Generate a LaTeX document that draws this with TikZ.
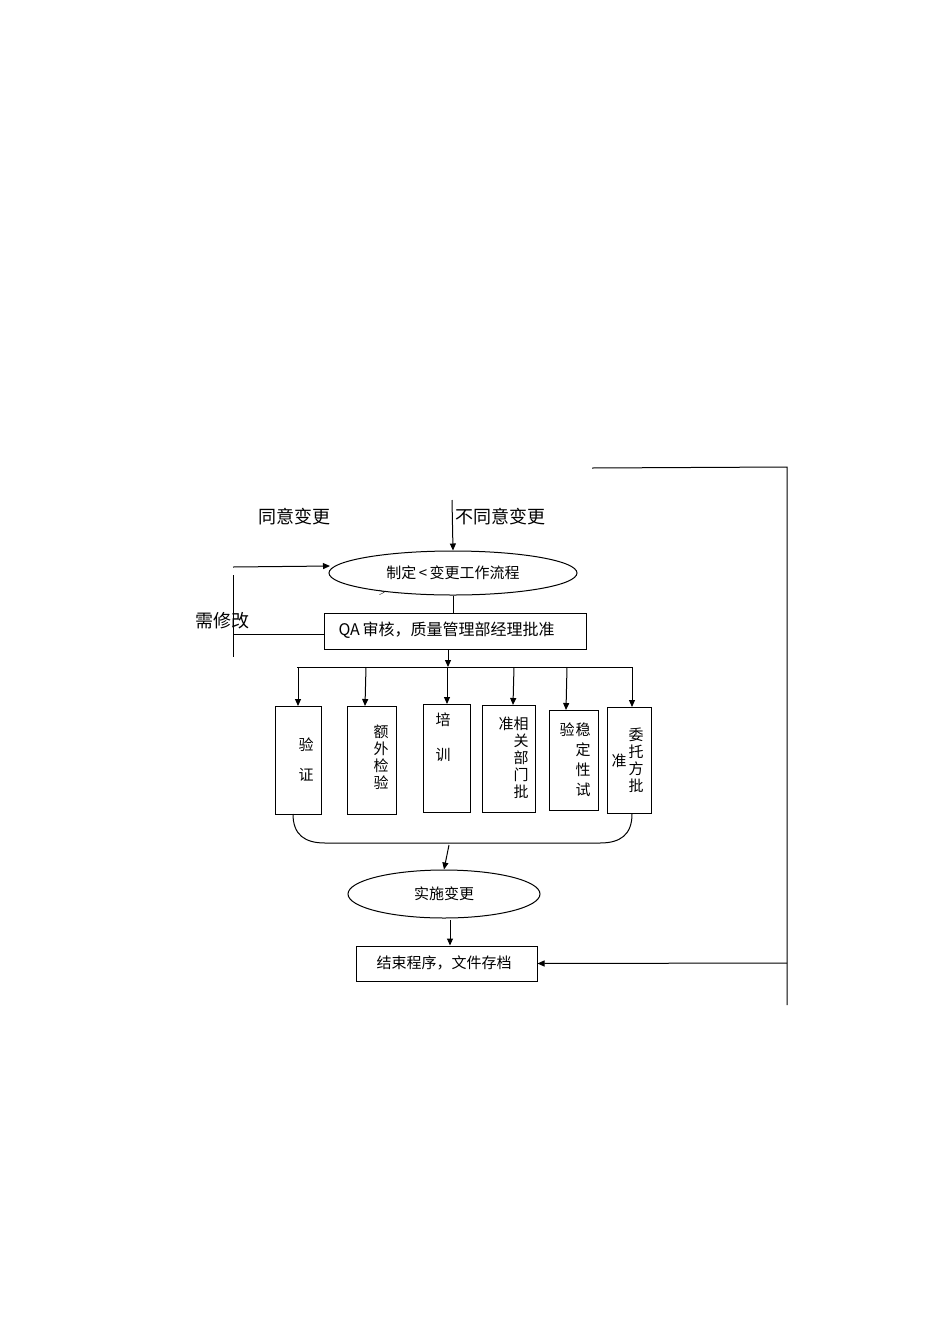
\documentclass[tikz,border=0pt]{standalone}
\usepackage{fontspec}
\setmainfont{Liberation Serif}
\newfontfamily\cjk{Noto Sans CJK SC}
\usetikzlibrary{shapes.geometric,arrows.meta}
\begin{document}
\begin{tikzpicture}[x=1pt,y=-1pt,line width=1pt,>={Triangle[length=7pt,width=6pt]},
 bx/.style={draw,inner sep=0pt},
 t/.style={font=\cjk\fontsize{15}{17}\selectfont,inner sep=0pt},
 big/.style={font=\cjk\fontsize{18}{18}\selectfont,inner sep=0pt}]
\useasboundingbox (0,0) rectangle (950,1344);
% outer right path
\coordinate (r0) at (592,468);
\coordinate (r1) at (787,467);
\coordinate (r2) at (787,1005);
\coordinate (r3) at (787,963);
\draw (r0)--(r1)--(r2);
% labels
\node[big] (ty) at (294,517) {同意变更};
\node[big] (bty) at (500,517) {不同意变更};
\node[big] (xxg) at (222,621) {需修改};
% ellipse
\node[draw,ellipse,minimum width=248pt,minimum height=44pt,inner sep=0pt] (e1) at (453,573) {};
\node[t] (e1t) at (453,573) {制定\,\textless\,变更工作流程};
\node[font=\fontsize{11}{11}\selectfont,inner sep=0pt] (gt) at (382,593) {>};
\coordinate (nd) at (452,500);
\draw[->] (nd)--(e1.north);
\coordinate (la) at (233,567);
\coordinate (lae) at (330,566);
\draw[->] (la)--(lae);
\coordinate (v0) at (233,575);
\coordinate (v1) at (233,657);
\draw (v0)--(v1);
% QA box
\node[bx,minimum width=262pt,minimum height=36pt] (qa) at (455,631) {};
\node[t,anchor=west] (qat) at (338,630) {\fontsize{16}{16}\selectfont QA\,{\cjk 审核，质量管理部经理批准}};
\coordinate (lb) at (233,634);
\draw (lb)--(qa.west|-lb);
\draw (e1.south)--(qa.north-|e1.south);
% bus
\coordinate (b0) at (297,667);
\coordinate (b1) at (632,667);
\draw (b0)--(b1);
\draw[->] (448,649)--(448,667);
% boxes
\node[bx,minimum width=46pt,minimum height=108pt] (k1) at (298,760) {};
\node[bx,minimum width=49pt,minimum height=108pt] (k2) at (371.5,760) {};
\node[bx,minimum width=47pt,minimum height=108pt] (k3) at (446.5,758) {};
\node[bx,minimum width=53pt,minimum height=107pt] (k4) at (508.5,758.5) {};
\node[bx,minimum width=49pt,minimum height=100pt] (k5) at (573.5,760) {};
\node[bx,minimum width=44pt,minimum height=106pt] (k6) at (629,760) {};
\draw[->] (298,667)--(298,706);
\draw[->] (366,667)--(365,706);
\draw[->] (447,667)--(447,704);
\draw[->] (514,667)--(513,705);
\draw[->] (567,667)--(566,710);
\draw[->] (632,667)--(632,707);
% box texts
\node[t] at (306,745) {验};
\node[t] at (306,775) {证};
\node[t,align=center] at (381,757) {额\\外\\检\\验};
\node[t] at (443,720) {培};
\node[t] at (443,755) {训};
\node[t,align=center] at (521,758) {相\\关\\部\\门\\批};
\node[t] at (506,724) {准};
\node[t,align=center,font=\cjk\fontsize{15}{20}\selectfont] at (583,760) {稳\\定\\性\\试};
\node[t] at (567,730) {验};
\node[t,align=center] at (636,760) {委\\托\\方\\批};
\node[t] at (619,761) {准};
% bracket
\coordinate (c0) at (293,814);
\coordinate (c1) at (632,814);
\draw (c0) .. controls (293,835) and (305,843) .. (325,843) -- (600,843) .. controls (620,843) and (632,835) .. (c1);
% implement
\node[draw,ellipse,minimum width=192pt,minimum height=48pt,inner sep=0pt] (e2) at (444,894) {};
\node[t] at (444,894) {实施变更};
\draw[->] (449,845)--(e2.north);
\node[bx,minimum width=181pt,minimum height=35pt] (end) at (446.5,963.5) {};
\node[t] at (444,963) {结束程序，文件存档};
\draw[->] (450,920)--(end.north-|450,920);
\draw[->] (r3)--(end.east);
\end{tikzpicture}
\end{document}
